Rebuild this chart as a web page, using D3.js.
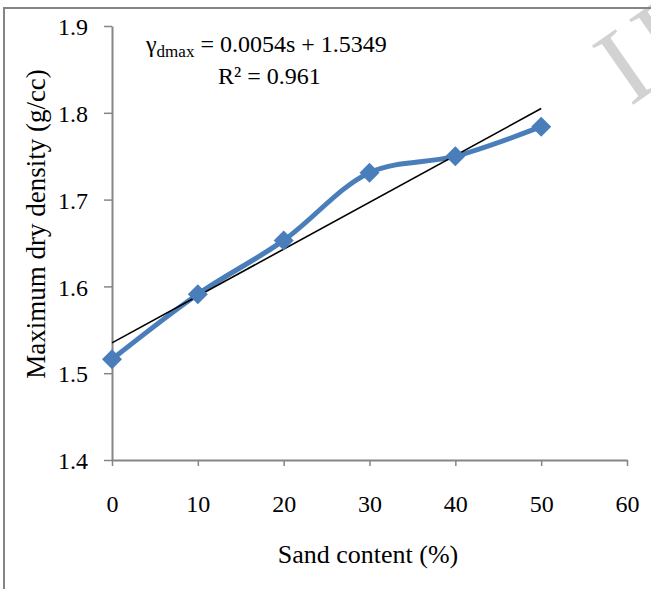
<!DOCTYPE html>
<html><head><meta charset="utf-8">
<script src="https://cdn.jsdelivr.net/npm/d3@7"></script>
<style>html,body{margin:0;padding:0;background:#fff;}svg{display:block;}</style>
</head><body>
<script>
const sandContent = [0, 10, 20, 30, 40, 50];
const maxDryDensity = [1.516, 1.591, 1.653, 1.731, 1.750, 1.784];
const xTicks = [0, 10, 20, 30, 40, 50, 60];
const yTicks = [1.4, 1.5, 1.6, 1.7, 1.8, 1.9];
const trendSlope = 0.0054, trendIntercept = 1.5349;
const trendRange = [0, 50];

const W = 651, H = 589;
const svg = d3.select("body").append("svg").attr("width", W).attr("height", H);
const font = "'Liberation Serif', 'Times New Roman', 'DejaVu Serif', serif";

// watermark
svg.append("text").attr("transform","translate(630,107) rotate(-35)")
  .style("font-family",font).style("font-size","110px")
  .attr("fill","#d2d2d2").text("IJERT");

// frame
svg.append("path").attr("d", "M4,589 V8 H651").attr("fill","none").attr("stroke","#858585").attr("stroke-width",2);

const x = d3.scaleLinear().domain([0,60]).range([112,627]);
const y = d3.scaleLinear().domain([1.4,1.9]).range([460,26]);

const xAxis = svg.append("g").attr("transform","translate(0,460)")
  .call(d3.axisBottom(x).tickValues(xTicks).tickFormat(d3.format("d")).tickSize(6).tickSizeOuter(0));
const yAxis = svg.append("g").attr("transform","translate(112,0)")
  .call(d3.axisLeft(y).tickValues(yTicks).tickFormat(d3.format(".1f")).tickSize(8).tickSizeOuter(0));
[xAxis,yAxis].forEach(g=>{
  g.select(".domain").attr("stroke","#868686").attr("stroke-width",2);
  g.selectAll(".tick line").attr("stroke","#868686").attr("stroke-width",1.5);
  g.selectAll("text").style("font-family",font).style("font-size","24px").attr("fill","#000");
});
xAxis.selectAll("text").attr("dy","0").attr("y",52);
yAxis.selectAll("text").attr("x",-24).attr("dy","0.36em");

// axis titles
svg.append("text").attr("x",368).attr("y",563).attr("text-anchor","middle")
  .style("font-family",font).style("font-size","26px").text("Sand content (%)");
svg.append("text").attr("transform","translate(45,224) rotate(-90)").attr("text-anchor","middle")
  .style("font-family",font).style("font-size","27px").text("Maximum dry density (g/cc)");

// series
const pts = sandContent.map((s,i)=>[s,maxDryDensity[i]]);
svg.append("path").datum(pts)
  .attr("d", d3.line().x(d=>x(d[0])).y(d=>y(d[1])).curve(d3.curveCatmullRom.alpha(0.5)))
  .attr("fill","none").attr("stroke","#4a7ebb").attr("stroke-width",5).attr("stroke-linejoin","round");

// trendline
svg.append("line")
  .attr("x1",x(trendRange[0])).attr("y1",y(trendIntercept+trendSlope*trendRange[0]))
  .attr("x2",x(trendRange[1])).attr("y2",y(trendIntercept+trendSlope*trendRange[1]))
  .attr("stroke","#000").attr("stroke-width",1.6);

// markers
svg.selectAll(".mk").data(pts).enter().append("path")
  .attr("transform",d=>`translate(${x(d[0])},${y(d[1])})`)
  .attr("d","M0,-10 L10,0 L0,10 L-10,0 Z").attr("fill","#4a7ebb");

// equation
const eq = svg.append("text").attr("x",146).attr("y",52).style("font-family",font).style("font-size","24px");
eq.append("tspan").text("γ");
eq.append("tspan").style("font-size","17px").attr("dy",5).text("dmax");
eq.append("tspan").attr("dy",-5).text(" = 0.0054s + 1.5349");
svg.append("text").attr("x",218).attr("y",84).style("font-family",font).style("font-size","24px").text("R² = 0.961");
</script>
</body></html>
